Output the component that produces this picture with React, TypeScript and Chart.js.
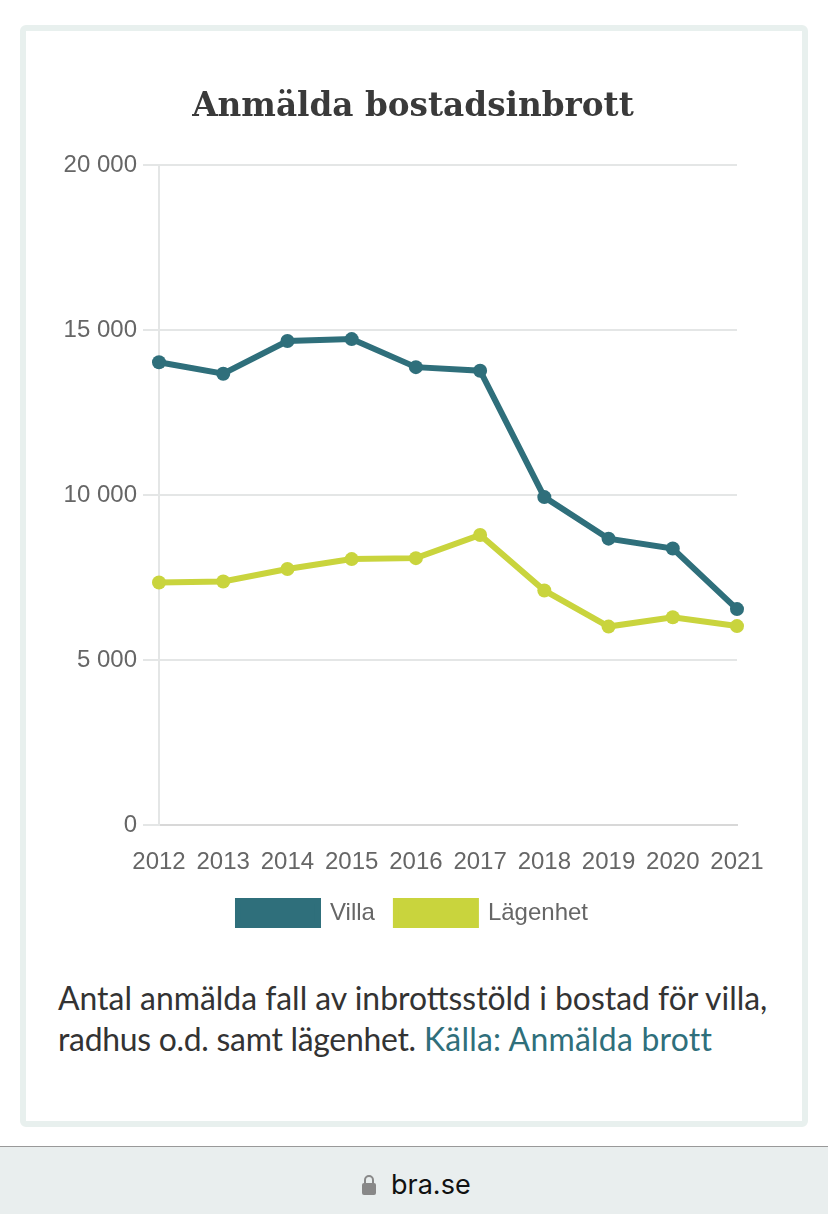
import React, { useEffect, useRef } from 'react';
import { Chart, registerables } from 'chart.js';

Chart.register(...registerables);

const YEARS = ['2012', '2013', '2014', '2015', '2016', '2017', '2018', '2019', '2020', '2021'];
const VILLA = [14030, 13680, 14670, 14730, 13880, 13770, 9940, 8680, 8380, 6545];
const LAGENHET = [7350, 7380, 7760, 8060, 8090, 8790, 7110, 6015, 6300, 6030];
const Y_TICKS = [0, 5000, 10000, 15000, 20000];

const TEAL = '#2f6f7b';
const LIME = '#c9d43d';
const GRID = '#e4e6e6';
const TEXT = '#666666';
const SANS = '"Liberation Sans", Arial, sans-serif';

const formatTick = (v: number) => (v === 0 ? '0' : `${Math.floor(v / 1000)} ${String(v % 1000).padStart(3, '0')}`);

export default function App() {
    const canvasRef = useRef<HTMLCanvasElement>(null);

    useEffect(() => {
        if (!canvasRef.current) return;
        document.body.style.margin = '0';
        const chart = new Chart(canvasRef.current, {
            type: 'line',
            data: {
                labels: YEARS,
                datasets: [
                    { label: 'Villa', data: VILLA, borderColor: TEAL, backgroundColor: TEAL, borderWidth: 6, pointRadius: 7, pointBorderWidth: 0, tension: 0 },
                    { label: 'Lägenhet', data: LAGENHET, borderColor: LIME, backgroundColor: LIME, borderWidth: 6, pointRadius: 7, pointBorderWidth: 0, tension: 0 },
                ],
            },
            options: {
                responsive: false,
                animation: false,
                plugins: {
                    title: {
                        display: true,
                        text: 'Anmälda bostadsinbrott',
                        color: '#3a3a3a',
                        font: { family: '"DejaVu Serif", serif', size: 32.7, weight: 'bold' },
                        padding: { top: 57, bottom: 38 },
                    },
                    legend: {
                        position: 'bottom',
                        labels: {
                            color: TEXT,
                            boxWidth: 80,
                            boxHeight: 24,
                            padding: 21,
                            font: { family: SANS, size: 24 },
                        },
                    },
                    tooltip: { enabled: false },
                },
                scales: {
                    x: {
                        afterFit: (axis) => {
                            axis.height = 55;
                        },
                        grid: { display: true, drawOnChartArea: false, drawTicks: false, color: GRID, lineWidth: 2 },
                        border: { color: '#d8d8d8', width: 2 },
                        ticks: { color: TEXT, font: { family: SANS, size: 24 }, autoSkip: false, maxRotation: 0, padding: 23 },
                    },
                    y: {
                        min: 0,
                        max: 20000,
                        afterBuildTicks: (axis) => {
                            axis.ticks = Y_TICKS.map((value) => ({ value }));
                        },
                        afterFit: (axis) => {
                            axis.width = 133;
                        },
                        grid: { color: GRID, lineWidth: 2, tickLength: 16 },
                        border: { color: GRID, width: 2 },
                        ticks: { color: TEXT, font: { family: SANS, size: 24 }, padding: 6, callback: (v) => formatTick(Number(v)) },
                    },
                    // empty right axis, balances the left one so title and legend stay centred
                    spacer: {
                        position: 'right',
                        afterFit: (axis) => {
                            axis.width = 63;
                        },
                        grid: { display: false },
                        border: { display: false },
                        ticks: { display: false },
                    },
                },
            },
        });
        return () => chart.destroy();
    }, []);

    return (
        <div style={{ position: 'relative', width: 828, height: 1214, background: '#fff', overflow: 'hidden' }}>
            <div style={{ position: 'absolute', left: 20, top: 25, width: 776, height: 1090, border: '6px solid #e8f0ee', borderRadius: 6 }} />
            <canvas ref={canvasRef} width={774} height={904} style={{ position: 'absolute', left: 26, top: 31, width: 774, height: 904 }} />
            <div style={{ position: 'absolute', left: 58, top: 978, width: 735, fontFamily: 'Lato, sans-serif', fontSize: 31.9, lineHeight: '41px', color: '#333' }}>
                Antal anmälda fall av inbrottsstöld i bostad för villa, <span style={{ letterSpacing: -0.27 }}>radhus o.d. samt lägenhet.</span> <span style={{ color: TEAL, letterSpacing: 0.25 }}>Källa: Anmälda brott</span>
            </div>
            <div style={{ position: 'absolute', left: 0, top: 1146, width: 828, height: 68, background: '#e9eeee', borderTop: '1px solid #999', boxSizing: 'border-box' }}>
                <svg width="16" height="22" viewBox="0 0 16 22" style={{ position: 'absolute', left: 361, top: 27 }}>
                    <path d="M4 9V6a4 4 0 0 1 8 0v3" fill="none" stroke="#888" strokeWidth="2" />
                    <rect x="1" y="9" width="14" height="12" rx="2" fill="#888" />
                </svg>
                <div style={{ position: 'absolute', left: 391, top: 22, fontFamily: 'Inter, sans-serif', fontSize: 27, lineHeight: '32px', color: '#111' }}>bra.se</div>
            </div>
        </div>
    );
}
